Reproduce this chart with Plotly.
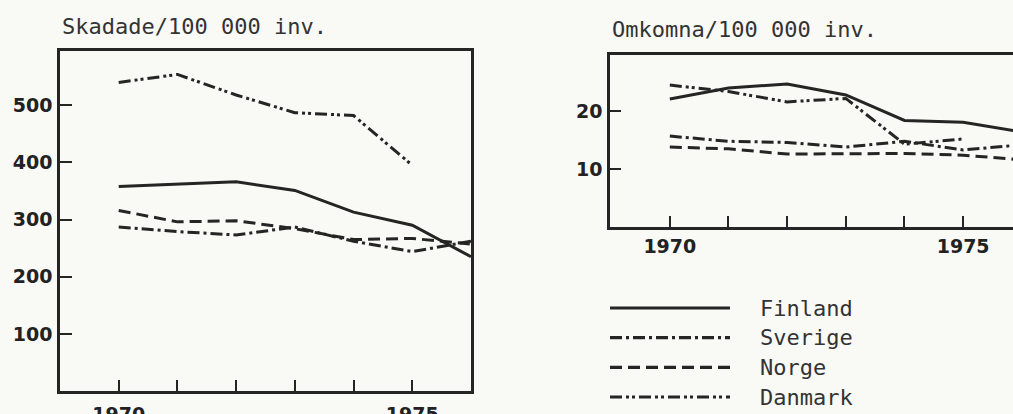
import plotly.graph_objects as go

W, H = 1013, 414

years = [1970, 1971, 1972, 1973, 1974, 1975, 1976]
countries = ["Finland", "Sverige", "Norge", "Danmark"]

# Skadade / 100 000 inv.
inj_finland = [358, 362, 366, 351, 313, 290, 235]
inj_sverige = [287, 279, 273, 287, 262, 244, 262]
inj_norge = [316, 296, 298, 284, 265, 267, 257]
inj_danmark = [540, 554, 518, 487, 482, 395]

# Omkomna / 100 000 inv.
dead_finland = [22.1, 24.0, 24.7, 22.8, 18.4, 18.1, 16.4]
dead_sverige = [15.7, 14.8, 14.6, 13.8, 14.8, 13.3, 14.2]
dead_norge = [13.8, 13.5, 12.6, 12.6, 12.7, 12.4, 11.6]
dead_danmark = [24.5, 23.4, 21.6, 22.2, 14.3, 15.2]

left_yticks = [100, 200, 300, 400, 500]
right_yticks = [10, 20]
xtick_vals = [1970, 1971, 1972, 1973, 1974, 1975]
xtick_text = ["1970", "", "", "", "", "1975"]

INK = "#252525"
BG = "#f9f9f6"
dashes = {
    "Finland": "solid",
    "Sverige": "12px,4px,3px,4px",
    "Norge": "12px,6px",
    "Danmark": "12px,4px,3px,3px,3px,4px",
}

inj = {"Finland": inj_finland, "Sverige": inj_sverige, "Norge": inj_norge, "Danmark": inj_danmark}
dead = {"Finland": dead_finland, "Sverige": dead_sverige, "Norge": dead_norge, "Danmark": dead_danmark}

fig = go.Figure()
for c in countries:
    fig.add_trace(go.Scatter(x=years[:len(inj[c])], y=inj[c], mode="lines",
                             line=dict(color=INK, width=3, dash=dashes[c]),
                             xaxis="x", yaxis="y", showlegend=False, hoverinfo="skip"))
    fig.add_trace(go.Scatter(x=years[:len(dead[c])], y=dead[c], mode="lines",
                             line=dict(color=INK, width=3, dash=dashes[c]),
                             xaxis="x2", yaxis="y2", showlegend=False, hoverinfo="skip"))

# legend drawn as small samples in a hidden axis
for i, c in enumerate(countries):
    fig.add_trace(go.Scatter(x=[0, 1], y=[i, i], mode="lines",
                             line=dict(color=INK, width=3.2, dash=dashes[c]),
                             xaxis="x3", yaxis="y3", showlegend=False, hoverinfo="skip"))
    fig.add_annotation(x=1.233, y=i, xref="x3", yref="y3", text=c, showarrow=False,
                       xanchor="left", yanchor="middle",
                       font=dict(family="DejaVu Sans Mono", size=22, color="#333"))

tickfont = dict(family="DejaVu Sans", size=19, color="#222", weight="bold")
axis_common = dict(showgrid=False, zeroline=False, showline=True, linecolor=INK, linewidth=2.5,
                   ticks="inside", tickcolor=INK, tickwidth=2, tickfont=tickfont,
                   automargin=False)

fig.update_layout(
    width=W, height=H,
    margin=dict(l=0, r=0, t=0, b=0),
    paper_bgcolor=BG,
    plot_bgcolor=BG,
    showlegend=False,
    xaxis=dict(domain=[60 / W, 471 / W], range=[1969, 1976], anchor="y", mirror=True,
               tickvals=xtick_vals, ticktext=xtick_text, ticklen=11, ticklabelstandoff=4,
               **axis_common),
    yaxis=dict(domain=[1 - 391 / H, 1 - 51 / H], range=[0, 595], anchor="x", mirror=True,
               tickvals=left_yticks, ticklen=12, ticklabelstandoff=1, **axis_common),
    xaxis2=dict(domain=[610 / W, 1.0], range=[1968.98, 1975.85], anchor="y2", mirror=True,
                tickvals=xtick_vals, ticktext=xtick_text, ticklen=11, ticklabelstandoff=0,
                **axis_common),
    yaxis2=dict(domain=[1 - 227 / H, 1 - 55 / H], range=[0, 29.7], anchor="x2", mirror=False,
                tickvals=right_yticks, ticklen=11, ticklabelstandoff=1, **axis_common),
    xaxis3=dict(domain=[610 / W, 1.0], range=[0, 403 / 120], anchor="y3", visible=False,
                automargin=False),
    yaxis3=dict(domain=[0, 1 - 290 / H], range=[3.573, -0.607], anchor="x3", visible=False,
                automargin=False),
)

fig.add_annotation(x=60 / W, y=1 - 26 / H, xref="paper", yref="paper", text="Skadade/100 000 inv.",
                   showarrow=False, xanchor="left", yanchor="middle",
                   font=dict(family="DejaVu Sans Mono", size=22, color="#333"))
fig.add_annotation(x=610 / W, y=1 - 30 / H, xref="paper", yref="paper", text="Omkomna/100 000 inv.",
                   showarrow=False, xanchor="left", yanchor="middle",
                   font=dict(family="DejaVu Sans Mono", size=22, color="#333"))

fig.write_html("out.html", config={"displayModeBar": False},
               post_script="document.body.style.margin='0';document.body.style.overflow='hidden';")
